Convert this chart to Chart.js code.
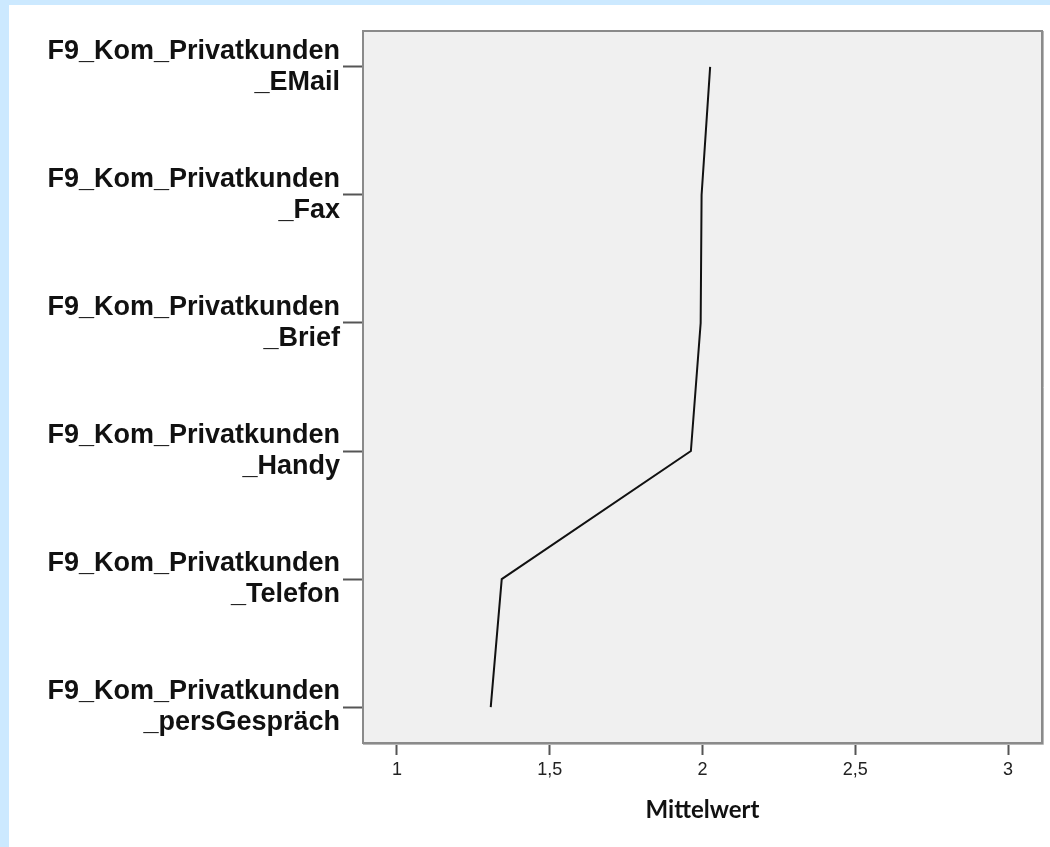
<!DOCTYPE html>
<html lang="de">
<head>
  <meta charset="UTF-8" />
  <title>Mittelwert F9_Kom_Privatkunden</title>
  <style>
    body { background: #cce9ff; margin: 0; padding: 0; overflow: hidden; }
    #wrap { position: absolute; left: 9px; top: 5px; width: 1041px; height: 842px; background: #fff; }
    canvas { display: block; }
  </style>
  <script src="https://cdn.jsdelivr.net/npm/chart.js"></script>
</head>
<body>
  <div id="wrap"><canvas id="meanChart" width="1041" height="842"></canvas></div>

  <script>
    // Variablen (von oben nach unten) und Mittelwerte
    const categories = [
      'F9_Kom_Privatkunden_EMail',
      'F9_Kom_Privatkunden_Fax',
      'F9_Kom_Privatkunden_Brief',
      'F9_Kom_Privatkunden_Handy',
      'F9_Kom_Privatkunden_Telefon',
      'F9_Kom_Privatkunden_persGespräch'
    ];
    const means = [2.025, 1.997, 1.994, 1.962, 1.343, 1.307];
    const xTicks = [1, 1.5, 2, 2.5, 3];
    const xTitle = 'Mittelwert';

    // Plotfläche grau mit Rahmen
    const plotFrame = {
      id: 'plotFrame',
      beforeDatasetsDraw(chart) {
        const { ctx, chartArea: a } = chart;
        ctx.save();
        ctx.fillStyle = '#f0f0f0';
        ctx.fillRect(a.left, a.top, a.right - a.left, a.bottom - a.top);
        ctx.strokeStyle = '#8a8a8a';
        ctx.lineWidth = 2;
        ctx.strokeRect(a.left, a.top, a.right - a.left, a.bottom - a.top);
        ctx.strokeStyle = '#b8b8b8';
        ctx.lineWidth = 1;
        ctx.beginPath();
        ctx.moveTo(a.right + 1.5, a.top);
        ctx.lineTo(a.right + 1.5, a.bottom + 1.5);
        ctx.lineTo(a.left, a.bottom + 1.5);
        ctx.stroke();
        ctx.restore();
      }
    };

    const points = means.map((v, i) => ({ x: v, y: i }));

    new Chart(document.getElementById('meanChart').getContext('2d'), {
      type: 'scatter',
      data: {
        datasets: [{
          data: points,
          showLine: true,
          borderColor: '#111',
          borderWidth: 2,
          pointRadius: 0,
          tension: 0
        }]
      },
      options: {
        responsive: false,
        animation: false,
        devicePixelRatio: 1,
        layout: { padding: { top: 26, right: 8, left: 0, bottom: 0 } },
        plugins: { legend: { display: false }, tooltip: { enabled: false } },
        scales: {
          x: {
            type: 'linear',
            min: 0.889,
            max: 3.111,
            afterBuildTicks: s => { s.ticks = xTicks.map(v => ({ value: v })); },
            afterFit: s => { s.height = 104; s.paddingLeft = 0; s.paddingRight = 0; },
            border: { display: false },
            grid: { drawOnChartArea: false, drawTicks: true, tickLength: 12, tickWidth: 2, tickColor: '#555' },
            ticks: {
              color: '#222',
              padding: 4,
              font: { family: 'Liberation Sans', size: 18 },
              callback: v => String(v).replace('.', ',')
            },
            title: {
              display: true,
              text: xTitle,
              color: '#111',
              font: { family: 'Lato', size: 24, weight: 'bold' },
              padding: { top: 0, bottom: 22 }
            }
          },
          y: {
            type: 'linear',
            reverse: true,
            min: -0.28,
            max: 5.28,
            afterBuildTicks: s => { s.ticks = categories.map((_, i) => ({ value: i })); },
            afterFit: s => { s.width = 354; s.paddingTop = 0; s.paddingBottom = 0; },
            border: { display: false },
            grid: { drawOnChartArea: false, drawTicks: true, tickLength: 20, tickWidth: 2, tickColor: '#555' },
            ticks: {
              color: '#111',
              padding: 3,
              font: { family: 'Liberation Sans', size: 27, weight: 'bold', lineHeight: 1.15 },
              callback: v => {
                const name = categories[v];
                return name ? [name.slice(0, 19), name.slice(19)] : '';
              }
            }
          }
        }
      },
      plugins: [plotFrame]
    });
  </script>
</body>
</html>
